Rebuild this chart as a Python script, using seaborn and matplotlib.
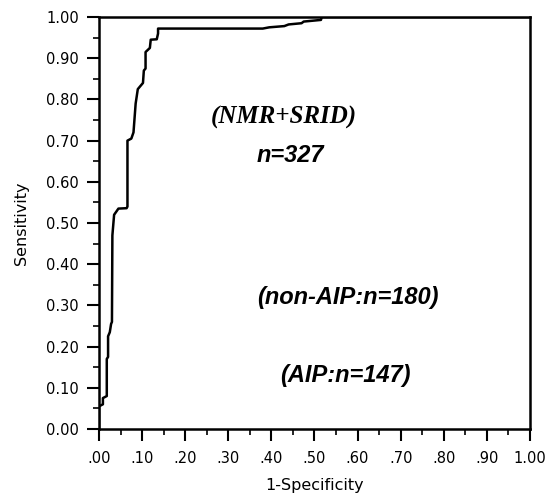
import numpy as np
import pandas as pd
import seaborn as sns
import matplotlib.pyplot as plt
from matplotlib.ticker import MultipleLocator, FixedLocator

# ROC curve vertices
fpr = [0.000, 0.000, 0.009, 0.009, 0.018, 0.018, 0.021, 0.021, 0.025, 0.028,
       0.030, 0.031, 0.035, 0.045, 0.064, 0.066, 0.066, 0.075, 0.080, 0.085,
       0.090, 0.102, 0.104, 0.108, 0.108, 0.118, 0.120, 0.134, 0.137, 0.137,
       0.380, 0.395, 0.430, 0.440, 0.470, 0.475, 0.515, 0.517, 1.000]
tpr = [0.000, 0.055, 0.060, 0.075, 0.080, 0.170, 0.175, 0.225, 0.235, 0.255,
       0.260, 0.470, 0.520, 0.535, 0.536, 0.540, 0.700, 0.705, 0.720, 0.790,
       0.825, 0.840, 0.870, 0.875, 0.915, 0.925, 0.945, 0.946, 0.960, 0.972,
       0.972, 0.975, 0.978, 0.982, 0.985, 0.989, 0.993, 1.000, 1.000]

x_ticks = [0.0, 0.1, 0.2, 0.3, 0.4, 0.5, 0.6, 0.7, 0.8, 0.9, 1.0]
x_labels = [".00", ".10", ".20", ".30", ".40", ".50", ".60", ".70", ".80", ".90", "1.00"]
y_ticks = [0.0, 0.1, 0.2, 0.3, 0.4, 0.5, 0.6, 0.7, 0.8, 0.9, 1.0]
y_labels = ["%.2f" % v for v in y_ticks]

df = pd.DataFrame({"fpr": fpr, "tpr": tpr})

sns.set_style("ticks")
plt.rcParams["font.family"] = ["DejaVu Sans"]
plt.rcParams["text.color"] = "black"
plt.rcParams["axes.labelcolor"] = "black"
fig = plt.figure(figsize=(5.48, 5.01), dpi=100)
ax = fig.add_axes([0.1807, 0.1437, 0.7863, 0.8223])

sns.lineplot(data=df, x="fpr", y="tpr", sort=False, estimator=None,
             color="black", linewidth=1.8, ax=ax)

ax.set_xlim(0, 1)
ax.set_ylim(0, 1)
ax.xaxis.set_major_locator(FixedLocator(x_ticks))
ax.yaxis.set_major_locator(FixedLocator(y_ticks))
ax.set_xticklabels(x_labels)
ax.set_yticklabels(y_labels)
ax.xaxis.set_minor_locator(MultipleLocator(0.05))
ax.yaxis.set_minor_locator(MultipleLocator(0.05))
ax.tick_params(which="major", direction="out", length=8.5, width=1.5,
               labelsize=10.5, colors="black")
ax.tick_params(which="minor", direction="out", length=4.5, width=1.2, colors="black")
ax.tick_params(axis="x", which="major", pad=7)
ax.tick_params(axis="y", which="major", pad=6)
for s in ax.spines.values():
    s.set_visible(True)
    s.set_linewidth(1.8)
    s.set_color("black")

ax.set_xlabel("1-Specificity", fontsize=11.5, labelpad=9)
ax.set_ylabel("Sensitivity", fontsize=11.5, labelpad=12)

ax.text(0.43, 0.757, "(NMR+SRID)", family="Liberation Serif", fontsize=18,
        fontweight="bold", style="italic", ha="center", va="center")
ax.text(0.443, 0.665, "n=327", family="Liberation Sans", fontsize=17,
        fontweight="bold", style="italic", ha="center", va="center")
ax.text(0.578, 0.318, "(non-AIP:n=180)", family="Liberation Sans", fontsize=17,
        fontweight="bold", style="italic", ha="center", va="center")
ax.text(0.571, 0.131, "(AIP:n=147)", family="Liberation Sans", fontsize=17,
        fontweight="bold", style="italic", ha="center", va="center")

fig.savefig("out.png", dpi=100)
